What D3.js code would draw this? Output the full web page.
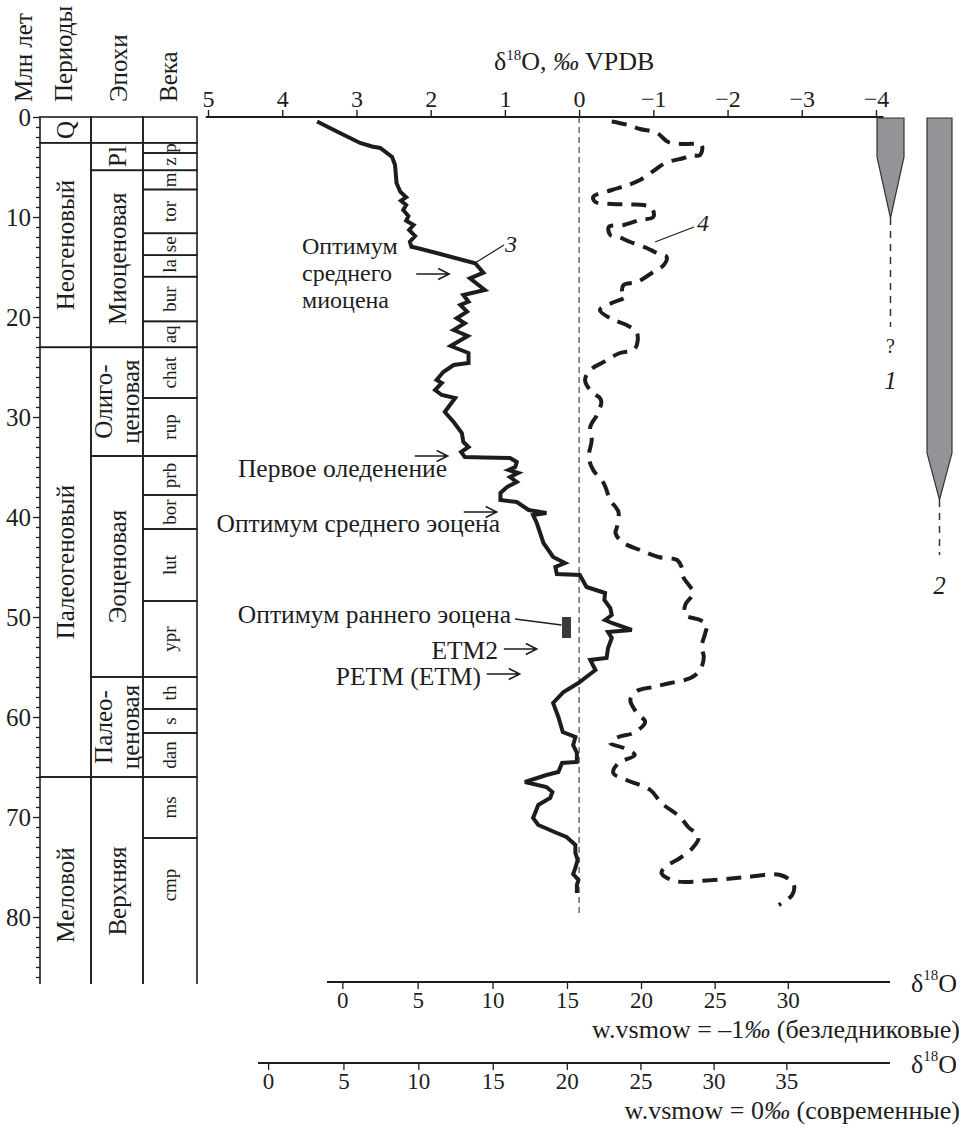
<!DOCTYPE html>
<html>
<head>
<meta charset="utf-8">
<script src="https://cdn.jsdelivr.net/npm/d3@7"></script>
<style>
  html, body { margin: 0; padding: 0; background: #fff; }
  svg { display: block; }
</style>
</head>
<body>
<svg id="chart" width="967" height="1132"></svg>
<script>
// ---------------- data ----------------
const ageTicks = d3.range(0, 87, 1);
const ageLabels = [0, 10, 20, 30, 40, 50, 60, 70, 80];
const d18oTicks = [5, 4, 3, 2, 1, 0, -1, -2, -3, -4];
const tableBottom = 86.8;

const periods = [
  { name: "Q", from: 0, to: 2.58 },
  { name: "Неогеновый", from: 2.58, to: 23.03 },
  { name: "Палеогеновый", from: 23.03, to: 66 },
  { name: "Меловой", from: 66, to: tableBottom, mid: 77.8 }
];
const epochs = [
  { name: "", from: 0, to: 2.58 },
  { name: "Pl", from: 2.58, to: 5.33 },
  { name: "Миоценовая", from: 5.33, to: 23.03 },
  { name: "Олиго-|ценовая", from: 23.03, to: 33.9 },
  { name: "Эоценовая", from: 33.9, to: 56 },
  { name: "Палео-|ценовая", from: 56, to: 66 },
  { name: "Верхняя", from: 66, to: tableBottom, mid: 77.4 }
];
const stages = [
  { name: "", from: 0, to: 2.58 },
  { name: "p", from: 2.58, to: 3.6 },
  { name: "z", from: 3.6, to: 5.33 },
  { name: "m", from: 5.33, to: 7.25 },
  { name: "tor", from: 7.25, to: 11.63 },
  { name: "se", from: 11.63, to: 13.82 },
  { name: "la", from: 13.82, to: 15.97 },
  { name: "bur", from: 15.97, to: 20.44 },
  { name: "aq", from: 20.44, to: 23.03 },
  { name: "chat", from: 23.03, to: 28.1 },
  { name: "rup", from: 28.1, to: 33.9 },
  { name: "prb", from: 33.9, to: 37.8 },
  { name: "bor", from: 37.8, to: 41.2 },
  { name: "lut", from: 41.2, to: 48.4 },
  { name: "ypr", from: 48.4, to: 56 },
  { name: "th", from: 56, to: 59.2 },
  { name: "s", from: 59.2, to: 61.6 },
  { name: "dan", from: 61.6, to: 66 },
  { name: "ms", from: 66, to: 72.1 },
  { name: "cmp", from: 72.1, to: tableBottom, mid: 76.8 }
];

// curve 3: benthic δ18O  [age, Ma ; δ18O, ‰]
const benthic = [
  [0.45, 3.53], [1.5, 3.25], [2.6, 2.95], [2.95, 2.79], [3.1, 2.68], [4.0, 2.52],
  [4.8, 2.48], [6.6, 2.46], [7.47, 2.41], [8.03, 2.33], [8.37, 2.40], [8.8, 2.33],
  [9.3, 2.37], [9.9, 2.30], [10.37, 2.33], [10.8, 2.23], [11.3, 2.29], [11.9, 2.21],
  [12.47, 2.28], [12.97, 2.26], [13.13, 2.17], [13.7, 1.87], [14.63, 1.40], [15.57, 1.29],
  [16.13, 1.47], [17.3, 1.27], [17.8, 1.56], [18.47, 1.49], [18.8, 1.60], [19.47, 1.51],
  [20.13, 1.65], [20.63, 1.54], [21.3, 1.69], [21.9, 1.50], [22.9, 1.73], [23.6, 1.49],
  [24.6, 1.49], [24.8, 1.69], [25.5, 1.83], [26.3, 1.92], [26.6, 1.85], [27.3, 1.94],
  [27.8, 1.85], [28.1, 1.67], [29.5, 1.81], [30.5, 1.69], [31.6, 1.58], [32.5, 1.56],
  [33.0, 1.49], [33.5, 1.59], [34.0, 1.54], [34.05, 1.29], [34.1, 0.93], [34.5, 0.84],
  [35.0, 0.86], [35.3, 0.95], [35.6, 0.82], [36.0, 0.93], [36.5, 0.84], [37.0, 0.97],
  [37.6, 1.06], [38.3, 1.06], [38.5, 0.84], [39.3, 0.68], [39.6, 0.44], [39.8, 0.62],
  [40.6, 0.57], [42.6, 0.48], [44.0, 0.35], [44.6, 0.19], [45.0, 0.32], [45.7, 0.30],
  [45.8, -0.01], [47.0, -0.10], [47.6, -0.35], [48.3, -0.34], [49.1, -0.42], [49.8, -0.44],
  [50.3, -0.35], [50.6, -0.44], [51.3, -0.71], [51.5, -0.39], [52.1, -0.44], [53.1, -0.39],
  [54.1, -0.37], [54.3, -0.15], [55.3, -0.22], [56.6, 0.01], [57.5, 0.21], [58.6, 0.35],
  [60.0, 0.28], [61.5, 0.22], [62.0, 0.05], [62.8, 0.08], [63.6, 0.03], [64.5, 0.03],
  [64.6, 0.23], [65.5, 0.28], [65.8, 0.44], [66.5, 0.73], [67.0, 0.44], [67.5, 0.36],
  [68.1, 0.39], [68.8, 0.55], [70.1, 0.62], [70.8, 0.55], [71.6, 0.30], [72.0, 0.17],
  [72.8, 0.05], [73.6, 0.05], [74.3, 0.02], [75.1, 0.05], [75.7, 0.08], [76.3, 0.01],
  [76.8, 0.03], [77.6, 0.03]
];

// curve 4: planktic δ18O  [age, Ma ; δ18O, ‰]
const planktic = [
  [0.45, -0.44], [0.8, -0.66], [1.2, -0.82], [1.6, -1.05], [2.5, -1.20], [2.7, -1.41],
  [2.8, -1.65], [3.8, -1.63], [3.85, -1.50], [4.1, -1.41], [4.6, -1.16], [5.3, -1.02],
  [6.3, -0.82], [6.8, -0.66], [7.3, -0.44], [8.0, -0.19], [8.5, -0.22], [8.7, -0.44],
  [8.75, -0.69], [8.8, -0.87], [9.1, -0.98], [10.0, -1.00], [10.3, -0.82], [10.8, -0.60],
  [11.0, -0.40], [11.8, -0.42], [12.0, -0.53], [12.5, -0.69], [13.1, -0.91], [13.6, -1.05],
  [14.0, -1.18], [14.8, -1.14], [15.6, -0.98], [16.5, -0.78], [16.8, -0.60], [17.6, -0.58],
  [18.0, -0.62], [18.6, -0.44], [19.3, -0.28], [20.2, -0.44], [20.8, -0.64], [21.6, -0.78],
  [23.2, -0.75], [23.6, -0.55], [24.5, -0.33], [25.3, -0.15], [26.3, -0.08], [27.5, -0.17],
  [28.1, -0.28], [28.5, -0.30], [29.8, -0.24], [31.0, -0.15], [32.3, -0.17], [34.0, -0.13],
  [35.3, -0.19], [36.6, -0.33], [38.3, -0.42], [39.5, -0.53], [41.0, -0.51], [41.6, -0.49],
  [42.5, -0.58], [43.3, -0.82], [44.0, -1.07], [44.3, -1.32], [45.0, -1.38], [46.1, -1.41],
  [47.0, -1.50], [47.6, -1.54], [48.8, -1.43], [49.8, -1.43], [50.3, -1.63], [50.8, -1.72],
  [51.6, -1.70], [53.0, -1.65], [54.0, -1.68], [55.3, -1.63], [56.1, -1.50], [56.6, -1.23],
  [57.0, -1.00], [57.4, -0.78], [58.3, -0.69], [59.6, -0.78], [60.5, -0.89], [61.6, -0.73],
  [62.0, -0.53], [62.6, -0.42], [63.1, -0.60], [63.8, -0.75], [64.6, -0.53], [65.6, -0.46],
  [66.3, -0.64], [67.3, -0.96], [68.6, -1.11], [70.0, -1.36], [71.0, -1.47], [72.0, -1.61],
  [73.0, -1.54], [74.1, -1.36], [75.0, -1.16], [75.6, -1.11], [76.4, -1.29], [76.3, -1.81],
  [76.0, -2.26], [75.8, -2.71], [76.7, -2.89], [77.8, -2.87], [78.8, -2.69]
];

// ice sheets: full extent, taper end, uncertain (dashed) extension, Ma
const iceSheets = [
  { label: "1", full: 4.0, taper: 10.1, dashedTo: 21.0, uncertain: true },
  { label: "2", full: 33.6, taper: 38.3, dashedTo: 43.8, uncertain: false }
];

// early Eocene climatic optimum marker
const eeco = { from: 50.0, to: 52.1, d18o: 0.17 };

// temperature scales
const tempTicksIceFree = [0, 5, 10, 15, 20, 25, 30];
const tempTicksModern = [0, 5, 10, 15, 20, 25, 30, 35];
const seawaterIceFree = -1;
const seawaterModern = 0;
// δc − δw (‰) for a given temperature (°C)
const calcite = T => 4.19 - 0.2035 * T + 0.0001146 * T * T;

// ---------------- drawing ----------------
const FONT = '"Liberation Serif","Times New Roman",Times,serif';
const INK = "#1d1d1d";
const svg = d3.select("#chart").style("font-family", FONT);
svg.append("rect").attr("width", 967).attr("height", 1132).attr("fill", "#fff");

const y = d3.scaleLinear().domain([0, 80]).range([117, 917]);
const x = d3.scaleLinear().domain([5, -4]).range([208, 876]);
const fmtMinus = d => (d < 0 ? "\u2212" + Math.abs(d) : String(d));

// column headers
const headers = [
  { text: "Млн лет", bx: 32 },
  { text: "Периоды", bx: 72 },
  { text: "Эпохи", bx: 127 },
  { text: "Века", bx: 177 }
];
svg.append("g").selectAll("text").data(headers).join("text")
  .attr("transform", d => `translate(${d.bx},102) rotate(-90)`)
  .attr("font-size", 25).attr("fill", INK)
  .text(d => d.text);

// stratigraphic table
const columns = [
  { rows: periods, x0: 40, x1: 91, size: 25 },
  { rows: epochs, x0: 91, x1: 143, size: 25 },
  { rows: stages, x0: 143, x1: 197, size: 19 }
];
const table = svg.append("g");
columns.forEach(col => {
  const g = table.append("g");
  g.selectAll("rect").data(col.rows).join("rect")
    .attr("x", col.x0).attr("width", col.x1 - col.x0)
    .attr("y", d => y(d.from)).attr("height", d => y(d.to) - y(d.from))
    .attr("fill", "none").attr("stroke", INK).attr("stroke-width", 1.6);
  const cx = (col.x0 + col.x1) / 2;
  col.rows.filter(d => d.name).forEach(d => {
    const lines = d.name.split("|");
    const cy = d.mid !== undefined ? y(d.mid) : (y(d.from) + y(d.to)) / 2;
    const gap = col.size * 1.1;
    lines.forEach((ln, i) => {
      const off = (i - (lines.length - 1) / 2) * gap;
      g.append("text")
        .attr("transform", `translate(${cx + off},${cy}) rotate(-90)`)
        .attr("text-anchor", "middle").attr("dy", "0.34em")
        .attr("font-size", col.size).attr("fill", INK)
        .text(ln);
    });
  });
});
// open bottom of the table: erase the closing edges
table.append("rect").attr("x", 30).attr("y", y(tableBottom) - 1).attr("width", 180).attr("height", 6).attr("fill", "#fff");

// age axis
const gAge = svg.append("g").attr("transform", "translate(40,0)")
  .call(d3.axisLeft(y).tickValues(ageTicks).tickSize(7).tickPadding(2).tickFormat(d => ageLabels.includes(d) ? d : ""));
gAge.select(".domain").remove();
gAge.selectAll(".tick line").attr("x2", d => d % 10 === 0 ? -7 : -4).attr("stroke", INK).attr("stroke-width", 1.3);
gAge.selectAll(".tick text").attr("font-family", FONT).attr("font-size", 25).attr("fill", INK);

// δ18O axis
const gTop = svg.append("g").attr("transform", `translate(0,${y(0)})`)
  .call(d3.axisTop(x).tickValues(d18oTicks).tickSize(7).tickPadding(3).tickFormat(fmtMinus));
gTop.select(".domain").remove();
gTop.append("line").attr("x1", x(5.03)).attr("x2", x(-4.1)).attr("stroke", INK).attr("stroke-width", 1.8);
gTop.selectAll(".tick line").attr("stroke", INK).attr("stroke-width", 1.4);
gTop.selectAll(".tick text").attr("font-family", FONT).attr("font-size", 24).attr("fill", INK);

const title = svg.append("text").attr("x", x(0) - 5).attr("y", 70).attr("text-anchor", "middle")
  .attr("font-size", 26).attr("fill", INK);
title.append("tspan").text("δ");
title.append("tspan").attr("font-size", 15).attr("dy", -10).text("18");
title.append("tspan").attr("dy", 10).text("O, ");
title.append("tspan").attr("font-style", "italic").text("‰");
title.append("tspan").text(" VPDB");

// zero reference line
svg.append("line").attr("x1", x(0)).attr("x2", x(0)).attr("y1", y(0)).attr("y2", y(80))
  .attr("stroke", "#555").attr("stroke-width", 1.3).attr("stroke-dasharray", "6,4");

// curves
const line = d3.line().x(d => x(d[1])).y(d => y(d[0]));
svg.append("path").datum(benthic).attr("d", line)
  .attr("fill", "none").attr("stroke", INK).attr("stroke-width", 4)
  .attr("stroke-linejoin", "miter").attr("stroke-miterlimit", 3);
svg.append("path").datum(planktic).attr("d", line.curve(d3.curveCatmullRom.alpha(0.5)))
  .attr("fill", "none").attr("stroke", INK).attr("stroke-width", 4)
  .attr("stroke-dasharray", "15,9");

// EECO marker
svg.append("rect").attr("x", x(eeco.d18o) - 4.5).attr("width", 9)
  .attr("y", y(eeco.from)).attr("height", y(eeco.to) - y(eeco.from))
  .attr("fill", "#3a3a3a");

// annotations
const ann = svg.append("g").attr("fill", INK).attr("font-size", 25.5);
const arrows = [
  { age: 15.7, d18o: 1.75 },
  { age: 33.9, d18o: 1.77 },
  { age: 39.5, d18o: 1.11 },
  { age: 53.2, d18o: 0.57 },
  { age: 55.7, d18o: 0.80 }
];
arrows.forEach(a => {
  const tx = x(a.d18o), ty = y(a.age);
  ann.append("path")
    .attr("d", `M${tx - 33},${ty}H${tx}M${tx - 11},${ty - 5.5}L${tx},${ty}L${tx - 11},${ty + 5.5}`)
    .attr("fill", "none").attr("stroke", INK).attr("stroke-width", 1.5);
});
["Оптимум", "среднего", "миоцена"].forEach((t, i) =>
  ann.append("text").attr("x", 302).attr("y", 254 + i * 27).attr("font-size", 24).text(t));
ann.append("text").attr("x", 447).attr("y", 477).attr("text-anchor", "end").text("Первое оледенение");
ann.append("text").attr("x", 500).attr("y", 532).attr("text-anchor", "end").text("Оптимум среднего эоцена");
ann.append("text").attr("x", 511).attr("y", 623).attr("text-anchor", "end").text("Оптимум раннего эоцена");
ann.append("text").attr("x", 498).attr("y", 659).attr("text-anchor", "end").text("ETM2");
ann.append("text").attr("x", 481).attr("y", 685).attr("text-anchor", "end").text("PETM (ETM)");
ann.append("line").attr("x1", 515).attr("y1", 619).attr("x2", x(eeco.d18o) - 5).attr("y2", 625)
  .attr("stroke", INK).attr("stroke-width", 1.3);

// curve numbers
ann.append("line").attr("x1", 475).attr("y1", 263).attr("x2", 504).attr("y2", 245).attr("stroke", INK).attr("stroke-width", 1.2);
ann.append("text").attr("x", 505).attr("y", 252).attr("font-size", 24).attr("font-style", "italic").text("3");
ann.append("line").attr("x1", 655).attr("y1", 242).attr("x2", 694).attr("y2", 227).attr("stroke", INK).attr("stroke-width", 1.2);
ann.append("text").attr("x", 697).attr("y", 231).attr("font-size", 24).attr("font-style", "italic").text("4");

// ice sheet bars
const barPos = [{ x0: 877, x1: 904 }, { x0: 927, x1: 952 }];
const bars = svg.append("g");
iceSheets.forEach((s, i) => {
  const { x0, x1 } = barPos[i];
  const cx = (x0 + x1) / 2;
  bars.append("path")
    .attr("d", `M${x0},${y(0) + 1}H${x1}V${y(s.full)}L${cx},${y(s.taper)}L${x0},${y(s.full)}Z`)
    .attr("fill", "#929497").attr("stroke", "#333").attr("stroke-width", 1.2);
  bars.append("line").attr("x1", cx).attr("x2", cx).attr("y1", y(s.taper)).attr("y2", y(s.dashedTo))
    .attr("stroke", "#333").attr("stroke-width", 1.5).attr("stroke-dasharray", "7,6");
  if (s.uncertain) {
    bars.append("text").attr("x", cx).attr("y", y(s.dashedTo) + 26).attr("text-anchor", "middle")
      .attr("font-size", 20).attr("fill", INK).text("?");
  }
  bars.append("text").attr("x", cx).attr("y", y(s.dashedTo) + (s.uncertain ? 62 : 39))
    .attr("text-anchor", "middle").attr("font-size", 25).attr("font-style", "italic")
    .attr("fill", INK).text(s.label);
});

// temperature axes, placed on the δ18O scale
function tempAxis(ticks, dw, yPos, xStart, wLabel, note) {
  const g = svg.append("g").attr("transform", `translate(0,${yPos})`);
  const vals = ticks.map(T => calcite(T) + dw);
  g.call(d3.axisBottom(x).tickValues(vals).tickSize(7).tickPadding(3).tickFormat((v, i) => ticks[i]));
  g.select(".domain").remove();
  g.append("line").attr("x1", xStart).attr("x2", 890).attr("stroke", INK).attr("stroke-width", 1.8);
  g.selectAll(".tick line").attr("stroke", INK).attr("stroke-width", 1.3);
  g.selectAll(".tick text").attr("font-family", FONT).attr("font-size", 23).attr("fill", INK);
  const lab = g.append("text").attr("x", 911).attr("y", 10).attr("text-anchor", "start")
    .attr("font-family", FONT).attr("font-size", 26).attr("fill", INK);
  lab.append("tspan").text("δ");
  lab.append("tspan").attr("font-size", 15).attr("dy", -12).text("18");
  lab.append("tspan").attr("dy", 12).text("O");
  const nt = g.append("text").attr("x", 960).attr("y", 56).attr("text-anchor", "end")
    .attr("font-family", FONT).attr("font-size", 26).attr("fill", INK);
  nt.append("tspan").text(`w.vsmow = ${wLabel}`);
  nt.append("tspan").attr("font-style", "italic").text("‰");
  nt.append("tspan").text(` (${note})`);
}
tempAxis(tempTicksIceFree, seawaterIceFree, 982, 327, "\u20131", "безледниковые");
tempAxis(tempTicksModern, seawaterModern, 1063, 258, "0", "современные");
</script>
</body>
</html>
